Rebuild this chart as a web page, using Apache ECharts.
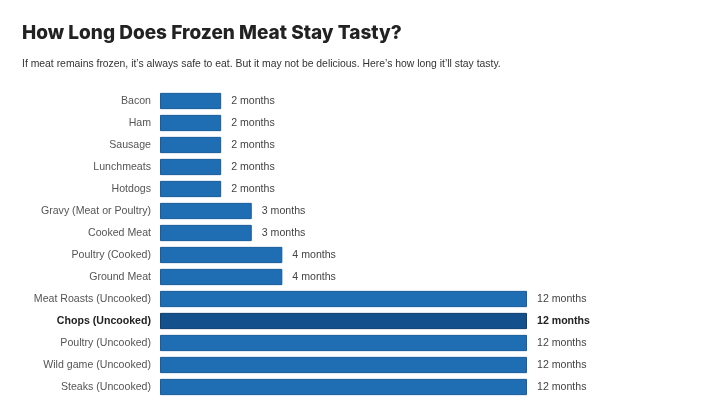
<!DOCTYPE html>
<html>
<head>
<meta charset="utf-8">
<script src="https://cdn.jsdelivr.net/npm/echarts@6/dist/echarts.min.js"></script>
<style>
html, body { margin: 0; padding: 0; background: #fff; }
#chart { width: 720px; height: 409px; }
</style>
</head>
<body>
<div id="chart"></div>
<script>
let categories = ['Bacon', 'Ham', 'Sausage', 'Lunchmeats', 'Hotdogs', 'Gravy (Meat or Poultry)', 'Cooked Meat',
	'Poultry (Cooked)', 'Ground Meat', 'Meat Roasts (Uncooked)', 'Chops (Uncooked)', 'Poultry (Uncooked)',
	'Wild game (Uncooked)', 'Steaks (Uncooked)'];
let months = [2, 2, 2, 2, 2, 3, 3, 4, 4, 12, 12, 12, 12, 12];
let highlight = 'Chops (Uncooked)';

let barData = [];
for(i in categories){
	let hot = categories[i] == highlight;
	barData.push({
		value: months[i],
		itemStyle: { color: hot ? '#13508c' : '#1f6db3', borderColor: hot ? '#0e3f70' : '#195d9c', borderWidth: 1 },
		label: hot ? { fontWeight: 'bold', color: '#222' } : {}
	});
}

var chart = echarts.init(document.getElementById('chart'));
option = {
	animation: false,
	title: {
		text: 'How Long Does Frozen Meat Stay Tasty?',
		subtext: 'If meat remains frozen, it\u2019s always safe to eat. But it may not be delicious. Here\u2019s how long it\u2019ll stay tasty.',
		left: 17,
		top: 19,
		itemGap: 16,
		textStyle: { fontFamily: 'Inter', fontWeight: 800, fontSize: 19, color: '#222' },
		subtextStyle: { fontFamily: 'Liberation Sans', fontSize: 10.4, color: '#333' }
	},
	grid: { left: 160, top: 90, width: 367, bottom: 11, containLabel: false },
	xAxis: {
		type: 'value', min: 0, max: 12, show: false
	},
	yAxis: {
		type: 'category',
		data: categories,
		inverse: true,
		axisLine: { show: false },
		axisTick: { show: false },
		axisLabel: {
			margin: 9,
			fontFamily: 'Liberation Sans',
			fontSize: 10.6,
			color: '#555',
			formatter: function(v){ return v == highlight ? '{b|' + v + '}' : v; },
			rich: { b: { fontFamily: 'Liberation Sans', fontSize: 10.6, fontWeight: 'bold', color: '#222' } }
		}
	},
	series: [{
		type: 'bar',
		data: barData,
		barCategoryGap: '26%',
		label: {
			show: true,
			position: 'right',
			distance: 10,
			fontFamily: 'Liberation Sans',
			fontSize: 10.6,
			color: '#444',
			formatter: '{c} months'
		}
	}]
};
chart.setOption(option);
</script>
</body>
</html>
